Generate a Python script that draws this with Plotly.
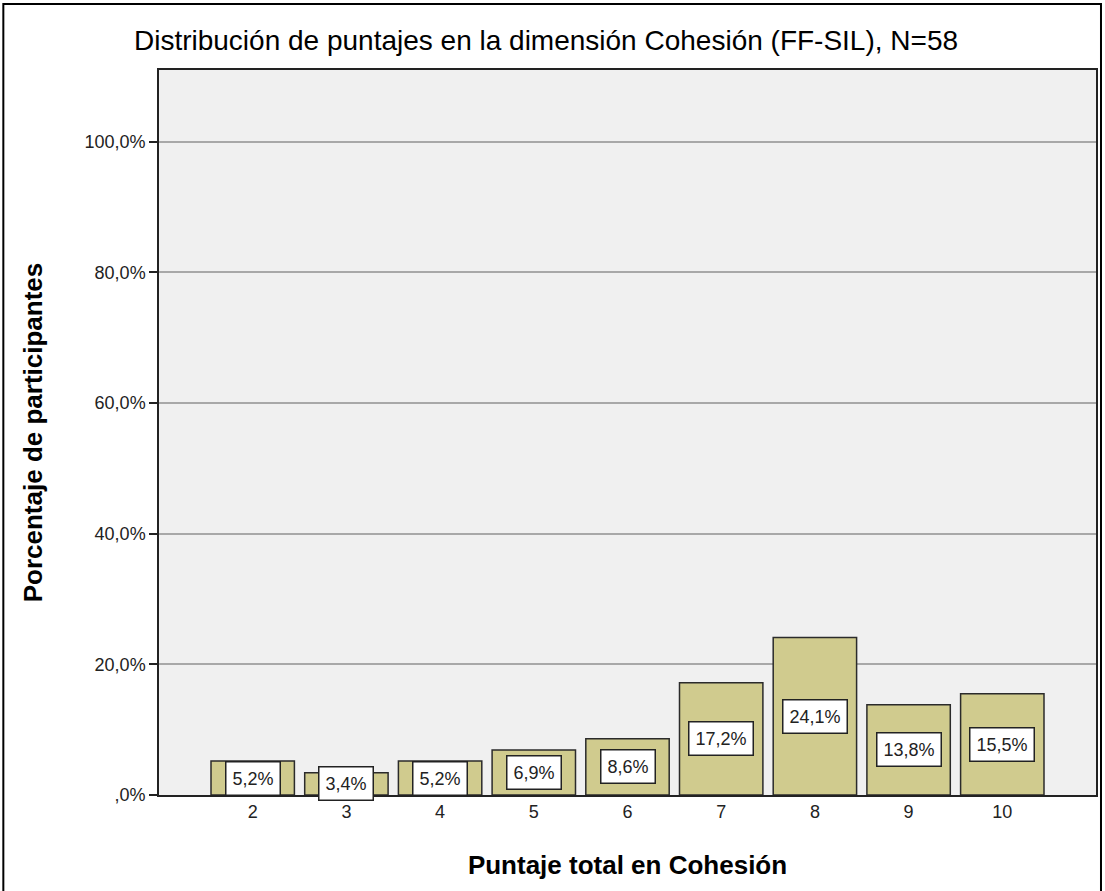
import plotly.graph_objects as go

puntajes = [2, 3, 4, 5, 6, 7, 8, 9, 10]
porcentajes = [5.2, 3.4, 5.2, 6.9, 8.6, 17.2, 24.1, 13.8, 15.5]
etiquetas = ["5,2%", "3,4%", "5,2%", "6,9%", "8,6%", "17,2%", "24,1%", "13,8%", "15,5%"]
y_ticks = [0, 20, 40, 60, 80, 100]
y_ticktext = [",0%", "20,0%", "40,0%", "60,0%", "80,0%", "100,0%"]

W, H = 1105, 891
L, R, T, B = 159, 7, 70, 96

fig = go.Figure()
fig.add_trace(go.Bar(
    x=puntajes, y=porcentajes, width=0.89,
    marker=dict(color="#D0CB8E", line=dict(color="#2b2b2b", width=1.5)),
    hoverinfo="x+y",
))

for x, v, t in zip(puntajes, porcentajes, etiquetas):
    fig.add_annotation(
        x=x, y=v / 2, text=t, showarrow=False,
        font=dict(family="Liberation Sans, Arial", size=18, color="#222"),
        bgcolor="white", bordercolor="#222", borderwidth=1.5, borderpad=6,
    )

pw = W - L - R
ph = H - T - B
# marco exterior de la imagen (cortado por abajo)
fig.add_shape(type="rect", xref="paper", yref="paper",
              x0=(3 - L) / pw, x1=(W - 2 - L) / pw,
              y0=-(H + 10 - T - ph) / ph, y1=(ph + T - 4) / ph,
              line=dict(color="black", width=2), layer="below")

fig.update_layout(
    width=W, height=H,
    margin=dict(l=L, r=R, t=T, b=B),
    paper_bgcolor="white", plot_bgcolor="#F0F0F0",
    font=dict(family="Liberation Sans, Arial", size=18, color="#222"),
    title=dict(text="Distribución de puntajes en la dimensión Cohesión (FF-SIL), N=58",
               x=546 / W, xref="container", y=1 - 40 / H, yref="container",
               xanchor="center", yanchor="middle",
               font=dict(size=28, color="black")),
    showlegend=False,
    xaxis=dict(range=[1, 11], tickvals=puntajes, ticks="", showgrid=False,
               showline=True, linecolor="#222", linewidth=1.5, mirror=True,
               tickfont=dict(size=18), zeroline=False,
               title=dict(text="<b>Puntaje total en Cohesión</b>", standoff=34,
                          font=dict(size=26, color="black"))),
    yaxis=dict(range=[0, 111], tickvals=y_ticks, ticktext=y_ticktext,
               ticks="outside", ticklen=8, tickcolor="#222", tickwidth=1.5,
               showgrid=True, gridcolor="#A8A8A8", gridwidth=2,
               showline=True, linecolor="#222", linewidth=1.5, mirror=True,
               zeroline=False, tickfont=dict(size=18),
               title=dict(text="<b>Porcentaje de participantes</b>", standoff=34,
                          font=dict(size=26, color="black"))),
)

fig.write_html("out.html", config={"displayModeBar": False},
               post_script="document.body.style.margin='0';")
